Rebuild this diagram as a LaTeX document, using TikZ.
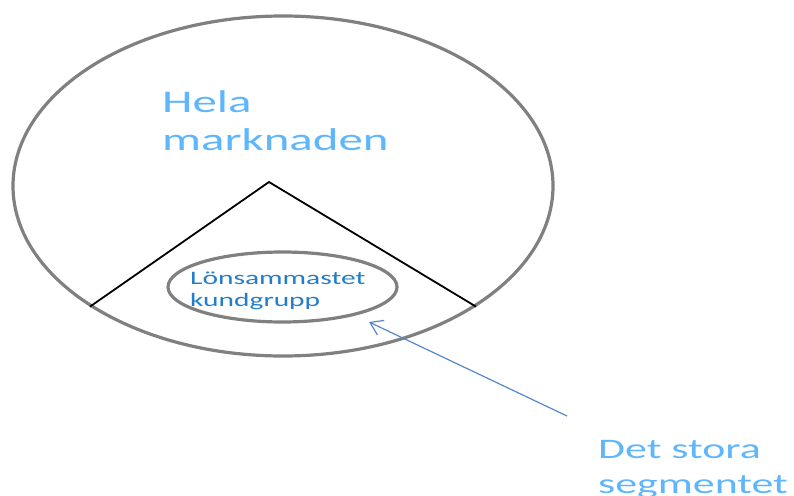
\documentclass[tikz,border=0pt]{standalone}
\usepackage{fontspec}
\usepackage{tikz}
\usetikzlibrary{shapes.geometric,arrows.meta}
\newfontfamily\widefont[FakeStretch=1.55]{Carlito}
\definecolor{rimgray}{RGB}{128,128,128}
\definecolor{skyblue}{RGB}{95,182,252}
\definecolor{deepblue}{RGB}{35,125,200}
\definecolor{arrowblue}{RGB}{85,135,205}

\begin{document}
\begin{tikzpicture}[x=1pt, y=-1pt, >={Straight Barb[length=12pt,width=16pt]},
    rim/.style={ellipse, draw=rimgray, line width=3.2pt, inner sep=0pt},
    label/.style={anchor=base west, inner sep=0pt, align=left, font=\widefont}]
  \useasboundingbox (0,0) rectangle (794,495);
  % Ellipses
  \node[rim, minimum width=540pt, minimum height=340pt] (market) at (283,186) {};
  \node[rim, minimum width=229pt, minimum height=70pt] (segment) at (282.5,287) {};
  % Wedge
  \coordinate (apex) at (269,182);
  \draw[line width=1.8pt] (market.212) -- (apex) -- (market.328);
  % Texts (anchored at the baseline of the last line)
  \node[label, text=skyblue, font=\widefont\fontsize{31.5}{38}\selectfont] (whole) at (162,150) {Hela\\marknaden};
  \node[label, text=deepblue, font=\widefont\fontsize{19}{22.4}\selectfont] (best) at (190,306.7) {Lönsammastet\\kundgrupp};
  \node[label, text=skyblue, font=\widefont\fontsize{28.3}{35}\selectfont] (big) at (598,493) {Det stora\\segmentet};
  % Arrow
  \coordinate (tail) at (567,416);
  \coordinate (tip) at (369,322);
  \draw[->, arrowblue, line width=1.2pt] (tail) -- (tip);
\end{tikzpicture}
\end{document}
